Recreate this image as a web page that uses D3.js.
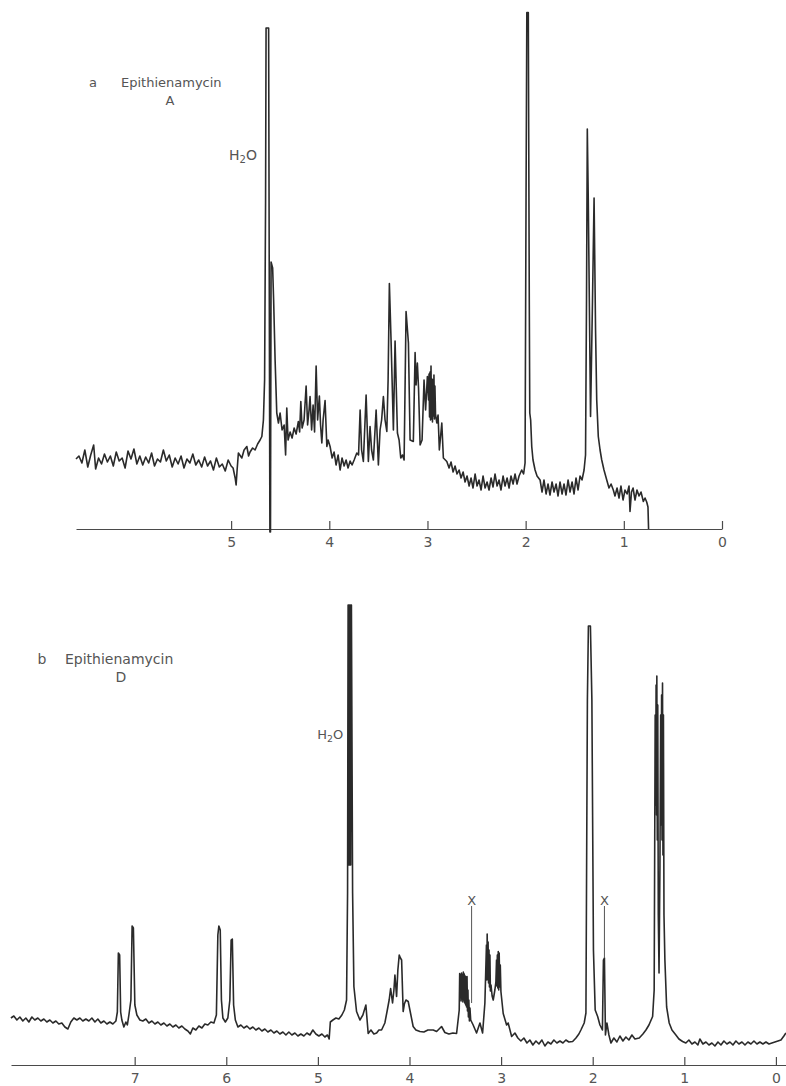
<!DOCTYPE html>
<html>
<head>
<meta charset="utf-8">
<script src="https://cdnjs.cloudflare.com/ajax/libs/d3/7.8.5/d3.min.js"></script>
<style>
body { margin: 0; background: #fff; }
svg { display: block; }
.trace { fill: none; stroke: #2a2a2a; stroke-width: 1.6; stroke-linejoin: round; }
.axis path, .axis line { stroke: #4a4a4a; stroke-width: 1.2; }
.axis text { font-family: "DejaVu Sans", sans-serif; font-size: 14px; fill: #555; }
.lbl { font-family: "DejaVu Sans", sans-serif; fill: #555; }
.mark { stroke: #555; stroke-width: 1; }
</style>
</head>
<body>
<script>
// spectrum a: [ppm, intensity]
var specA = [[6.58,14.0],[6.55,14.6],[6.52,13.2],[6.49,15.8],[6.46,12.4],[6.43,14.8],[6.40,16.8],[6.38,12.0],[6.35,14.2],[6.32,13.0],[6.29,15.0],[6.26,13.4],[6.23,14.6],[6.20,12.6],[6.17,15.4],[6.14,13.6],[6.11,14.2],[6.08,12.2],[6.05,15.6],[6.02,14.0],[5.99,16.0],[5.96,13.0],[5.93,14.6],[5.90,12.8],[5.87,14.4],[5.84,13.2],[5.81,15.2],[5.78,12.6],[5.75,14.0],[5.72,13.4],[5.69,15.8],[5.66,13.6],[5.63,14.8],[5.60,12.4],[5.57,14.2],[5.54,13.0],[5.51,14.6],[5.48,12.2],[5.45,14.0],[5.42,13.2],[5.39,15.0],[5.36,12.8],[5.33,13.8],[5.30,12.4],[5.27,14.4],[5.24,12.6],[5.21,13.6],[5.18,11.8],[5.15,14.2],[5.12,12.4],[5.09,13.0],[5.06,11.6],[5.03,13.8],[5.00,12.6],
  [4.980,12.2],[4.959,10.2],[4.949,8.8],[4.939,11.8],[4.926,15.2],[4.891,14.2],[4.868,15.8],[4.840,16.5],[4.822,14.6],[4.807,15.4],[4.781,16.2],[4.756,15.8],[4.730,17.0],[4.705,17.8],[4.687,18.5],[4.671,21.8],[4.659,29.8],[4.649,65.8],[4.644,100.2],[4.618,100.2],[4.605,-0.6],[4.599,-0.6],
  [4.593,53.4],[4.577,52.2],[4.567,45.8],[4.552,33.8],[4.535,23.2],[4.518,21.2],[4.501,23.2],[4.481,19.8],[4.460,20.8],[4.445,14.8],[4.433,24.2],[4.420,17.8],[4.399,19.4],[4.379,18.2],[4.358,20.2],[4.338,19.0],[4.315,21.5],[4.302,19.4],[4.290,25.5],[4.277,20.2],[4.257,21.8],[4.236,28.6],[4.221,20.8],[4.206,23.8],[4.196,26.5],[4.180,19.8],[4.165,24.8],[4.150,19.4],[4.134,32.6],[4.119,21.8],[4.101,26.6],[4.089,20.8],[4.076,17.2],[4.063,21.8],[4.043,25.7],[4.025,16.5],[4.012,17.8],
  [3.992,16.5],[3.971,14.2],[3.951,15.4],[3.931,12.8],[3.910,14.8],[3.890,11.8],[3.870,14.2],[3.849,12.6],[3.829,13.8],[3.809,12.2],[3.788,13.6],[3.768,12.8],[3.747,13.8],[3.720,15.2],[3.702,14.8],[3.686,23.8],[3.671,15.8],[3.653,13.5],[3.625,26.8],[3.602,13.5],[3.585,20.5],[3.569,15.8],[3.551,13.8],[3.523,23.8],[3.500,12.8],[3.483,19.8],[3.467,21.8],[3.449,26.5],[3.432,21.8],[3.414,19.5],[3.401,29.8],[3.388,49.1],[3.371,37.8],[3.347,19.8],[3.330,37.6],[3.306,19.2],[3.289,17.8],[3.272,14.2],[3.254,14.8],[3.238,13.8],[3.218,43.5],[3.194,37.2],[3.177,17.8],[3.144,17.5],[3.126,35.3],[3.116,28.8],[3.103,33.2],[3.091,28.2],[3.075,16.8],[3.055,17.8],[3.035,29.8],[3.019,23.8],[3.001,30.5],
  [2.989,25.8],[2.984,31.0],[2.979,22.4],[2.974,31.4],[2.969,21.8],[2.964,32.6],[2.959,22.0],[2.954,30.0],[2.949,21.4],[2.944,29.8],[2.939,22.6],[2.934,30.8],[2.929,22.0],[2.924,28.6],[2.918,23.0],[2.905,21.2],[2.892,22.8],[2.879,15.8],[2.854,21.2],[2.838,14.2],[2.803,13.5],[2.780,12.2],[2.760,13.4],[2.739,11.4],[2.719,12.6],[2.699,11.0],[2.678,11.8],[2.658,10.2],[2.637,11.4],[2.617,9.4],[2.597,10.6],[2.576,8.6],[2.556,10.2],[2.536,8.2],[2.515,11.0],[2.495,8.6],[2.475,9.8],[2.454,7.8],[2.434,10.6],[2.413,8.2],[2.393,9.4],[2.373,7.8],[2.352,10.2],[2.332,8.4],[2.312,11.0],[2.291,8.6],[2.271,9.8],[2.251,7.8],[2.230,10.6],[2.210,8.6],[2.189,10.2],[2.169,8.2],[2.149,10.6],[2.128,9.0],[2.108,11.0],[2.088,9.0],[2.067,10.6],[2.040,11.8],[2.021,11.0],[2.006,13.2],
  [1.996,65.8],[1.988,103.3],[1.973,103.3],[1.963,45.8],[1.958,23.2],[1.949,21.8],[1.938,16.5],[1.925,13.8],[1.904,11.8],[1.884,10.6],[1.853,9.8],[1.833,7.4],[1.813,9.8],[1.792,7.0],[1.772,9.0],[1.752,6.8],[1.731,9.4],[1.711,7.4],[1.690,9.0],[1.670,6.6],[1.650,9.4],[1.629,7.0],[1.609,9.0],[1.589,6.8],[1.568,9.8],[1.548,7.4],[1.527,9.4],[1.507,7.0],[1.487,10.2],[1.466,7.8],[1.446,10.6],[1.426,9.8],[1.405,11.8],[1.390,14.8],[1.380,45.8],[1.372,80.0],[1.362,65.8],[1.339,22.5],[1.319,45.8],[1.303,66.2],[1.288,39.8],[1.276,25.8],[1.260,18.5],[1.242,15.8],[1.225,13.8],[1.202,11.8],[1.174,9.8],[1.151,8.2],[1.130,9.0],[1.107,7.8],[1.090,6.6],[1.069,8.2],[1.049,6.2],[1.029,8.6],[1.008,5.8],
  [0.988,7.8],[0.967,7.0],[0.947,8.6],[0.937,3.5],[0.922,7.4],[0.906,8.2],[0.886,5.8],[0.866,7.8],[0.845,6.6],[0.825,7.4],[0.801,5.5],[0.784,6.2],[0.767,5.4],[0.754,4.4],[0.748,0]];

// spectrum b
var specB = [[8.351,9.4],[8.319,9.8],[8.286,9.0],[8.253,9.6],[8.221,8.8],[8.188,9.4],[8.155,8.6],[8.122,9.6],[8.090,9.0],[8.057,9.4],[8.024,8.8],[7.991,9.2],[7.959,8.6],[7.926,9.0],[7.893,8.4],[7.860,8.8],[7.828,8.2],[7.795,8.4],[7.762,7.6],[7.729,7.2],[7.697,8.6],[7.664,9.4],[7.631,9.0],[7.598,9.4],[7.566,8.8],[7.533,9.2],[7.500,8.8],[7.467,9.4],[7.434,8.6],[7.402,9.2],[7.369,8.4],[7.336,8.8],[7.303,8.2],[7.271,8.6],[7.238,8.2],[7.205,8.8],
  [7.189,10.6],[7.178,22.4],[7.164,22.0],[7.153,10.6],[7.140,9.0],[7.118,7.6],[7.096,8.6],[7.080,8.0],[7.063,10.0],[7.041,13.0],[7.028,27.8],[7.014,27.4],[6.998,12.0],[6.976,10.0],[6.943,9.0],[6.911,8.8],[6.878,9.2],[6.845,8.4],[6.812,8.8],[6.779,8.2],[6.747,8.6],[6.714,8.0],[6.681,8.4],[6.648,7.8],[6.616,8.2],[6.583,7.6],[6.550,8.0],[6.518,7.4],[6.485,7.8],[6.452,7.2],[6.419,6.8],[6.392,6.2],[6.365,7.4],[6.332,7.0],[6.299,7.8],[6.266,7.4],[6.234,8.2],[6.201,8.0],[6.168,8.6],[6.135,8.4],
  [6.108,10.0],[6.092,26.0],[6.081,27.8],[6.066,27.0],[6.053,13.0],[6.037,9.4],[6.010,8.6],[5.983,9.4],[5.961,13.0],[5.947,25.0],[5.934,25.2],[5.920,12.0],[5.901,9.0],[5.873,7.6],[5.841,8.0],[5.808,7.4],[5.775,7.8],[5.742,7.2],[5.710,7.6],[5.677,7.0],[5.644,7.4],[5.611,6.8],[5.579,7.2],[5.546,6.6],[5.513,7.0],[5.480,6.4],[5.448,6.8],[5.415,6.2],[5.382,6.6],[5.349,6.0],[5.317,6.6],[5.284,6.0],[5.251,6.4],[5.218,5.8],[5.186,6.2],[5.153,5.8],[5.120,6.4],[5.087,6.0],[5.055,7.0],[5.022,6.2],
  [4.989,5.8],[4.956,6.2],[4.924,5.6],[4.896,6.0],[4.877,5.2],[4.864,8.6],[4.836,9.0],[4.803,9.4],[4.771,9.2],[4.738,10.0],[4.711,11.0],[4.687,13.0],[4.676,34.4],[4.670,92.0],[4.666,40.0],[4.662,92.0],[4.658,40.0],[4.654,92.0],[4.650,40.0],[4.646,92.0],[4.642,40.0],[4.638,92.0],[4.634,92.0],[4.621,34.4],[4.607,15.7],[4.578,10.7],[4.541,9.0],[4.509,10.0],[4.476,12.0],[4.451,6.3],[4.421,7.0],[4.389,6.2],[4.359,6.4],[4.334,7.0],[4.305,7.0],[4.269,8.4],[4.242,11.0],[4.222,13.0],[4.206,15.3],[4.185,12.4],[4.170,15.0],[4.159,18.0],[4.141,13.7],[4.127,19.0],[4.112,22.0],[4.099,21.4],[4.086,21.0],[4.069,10.7],[4.056,12.2],[4.039,13.0],[4.014,12.7],
  [3.988,10.3],[3.960,7.7],[3.930,7.0],[3.886,6.7],[3.843,6.6],[3.799,7.0],[3.741,7.0],[3.704,6.7],[3.650,7.7],[3.614,6.5],[3.570,6.2],[3.526,6.4],[3.486,6.3],[3.457,11.0],[3.452,18.3],[3.447,13.5],[3.442,18.0],[3.437,12.8],[3.432,18.4],[3.427,13.2],[3.422,18.0],[3.417,12.6],[3.412,18.6],[3.407,13.0],[3.402,18.2],[3.397,12.4],[3.392,17.8],[3.387,12.0],[3.382,17.6],[3.377,11.6],[3.372,17.7],[3.367,10.8],[3.362,15.0],[3.357,9.6],[3.352,13.0],[3.346,8.8],[3.340,11.4],[3.332,9.0],[3.305,8.0],[3.268,6.4],[3.231,8.4],[3.202,6.4],
  [3.177,12.4],[3.160,24.0],[3.155,17.0],[3.152,26.2],[3.147,18.0],[3.142,24.6],[3.137,16.4],[3.132,23.0],[3.127,15.6],[3.122,22.0],[3.117,14.8],[3.110,16.0],[3.098,13.8],[3.086,13.0],[3.068,15.0],[3.057,16.6],[3.050,21.0],[3.046,15.8],[3.041,22.0],[3.036,15.4],[3.031,22.7],[3.026,15.0],[3.021,22.4],[3.015,15.6],[3.009,20.0],[3.002,14.7],
  [2.977,10.3],[2.940,8.0],[2.923,8.4],[2.885,5.7],[2.849,6.4],[2.817,5.4],[2.784,4.8],[2.751,5.4],[2.718,4.4],[2.686,5.0],[2.653,4.0],[2.620,4.8],[2.587,4.2],[2.555,5.0],[2.522,3.8],[2.489,4.6],[2.456,4.2],[2.424,5.0],[2.391,4.4],[2.358,4.8],[2.325,4.4],[2.293,5.0],[2.260,4.6],[2.219,4.7],[2.183,5.4],[2.151,6.2],[2.129,7.0],[2.093,8.4],[2.074,10.4],[2.058,73.0],[2.047,87.8],[2.025,87.8],[2.009,73.0],
  [1.992,23.0],[1.973,11.0],[1.946,9.7],[1.921,8.0],[1.894,7.0],[1.883,21.0],[1.872,21.4],[1.861,6.0],[1.845,8.4],[1.823,6.0],[1.801,4.4],[1.769,5.4],[1.736,4.6],[1.703,5.8],[1.670,4.8],[1.638,5.6],[1.605,5.0],[1.572,6.0],[1.539,5.2],[1.492,5.4],[1.452,6.2],[1.419,7.0],[1.386,8.0],[1.346,9.7],
  [1.329,15.0],[1.318,70.0],[1.313,52.0],[1.308,76.0],[1.303,50.0],[1.300,77.8],[1.295,45.0],[1.290,72.0],[1.284,30.0],[1.276,18.4],[1.266,40.0],[1.258,70.0],[1.253,48.0],[1.248,74.0],[1.243,45.0],[1.238,76.4],[1.233,42.0],[1.228,70.0],[1.222,30.0],[1.212,21.0],[1.193,11.6],[1.165,8.4],[1.135,7.0],[1.092,6.0],[1.059,5.2],[1.019,4.7],
  [0.983,4.4],[0.950,5.0],[0.917,4.2],[0.884,4.6],[0.852,4.0],[0.830,5.2],[0.797,4.2],[0.764,4.6],[0.731,4.0],[0.699,4.4],[0.666,3.8],[0.633,4.6],[0.600,4.0],[0.568,4.8],[0.535,4.2],[0.502,4.6],[0.469,4.0],[0.437,4.8],[0.404,4.2],[0.371,4.6],[0.338,4.0],[0.306,4.6],[0.273,4.2],[0.240,4.8],[0.207,4.2],[0.175,4.6],[0.142,4.2],[0.109,4.6],[0.076,4.2],[0.044,4.4],[0.011,4.6],[-0.022,4.8],[-0.055,5.0],[-0.087,5.8],[-0.109,6.4]];

var ticksA = [5, 4, 3, 2, 1, 0];
var ticksB = [7, 6, 5, 4, 3, 2, 1, 0];

// H2O peaks and the impurity marks (ppm, top, bottom)
var waterA = [4.644, 73.8];
var waterB = [4.670, 65.2];
var marksB = [[3.322, 31.8, 12.4], [1.872, 31.8, 21.4]];

var svg = d3.select("body").append("svg")
  .attr("width", 786)
  .attr("height", 1086);

function drawPanel(o) {
  var x = d3.scaleLinear().domain(o.xDomain).range(o.xRange),
      y = d3.scaleLinear().domain(o.yDomain).range(o.yRange);

  var g = svg.append("g");

  g.append("g")
    .attr("class", "axis")
    .attr("transform", "translate(0," + o.yRange[0] + ")")
    .call(d3.axisBottom(x)
      .tickValues(o.ticks)
      .tickSize(-8)
      .tickSizeOuter(0)
      .tickPadding(8)
      .tickFormat(d3.format("d")));

  g.append("path")
    .datum(o.data)
    .attr("class", "trace")
    .attr("d", d3.line()
      .x(function(d) { return x(d[0]); })
      .y(function(d) { return y(d[1]); }));

  // H2O label, left of the water peak
  var h = g.append("text")
    .attr("class", "lbl")
    .attr("x", x(o.water[0]) - o.waterGap)
    .attr("y", y(o.water[1]))
    .attr("text-anchor", "end")
    .style("font-size", o.waterSize + "px");
  h.append("tspan").text("H");
  h.append("tspan").attr("dy", 3).style("font-size", (o.waterSize * 0.72) + "px").text("2");
  h.append("tspan").attr("dy", -3).text("O");

  (o.marks || []).forEach(function(m) {
    g.append("line")
      .attr("class", "mark")
      .attr("x1", x(m[0])).attr("x2", x(m[0]))
      .attr("y1", y(m[1])).attr("y2", y(m[2]));
    g.append("text")
      .attr("class", "lbl")
      .attr("x", x(m[0]))
      .attr("y", y(m[1]) - 1)
      .attr("text-anchor", "middle")
      .style("font-size", "13px")
      .text("X");
  });

  g.append("text").attr("class", "lbl")
    .attr("x", o.title.x0).attr("y", o.title.y)
    .attr("text-anchor", "middle")
    .style("font-size", o.title.size + "px")
    .text(o.title.letter);
  g.append("text").attr("class", "lbl")
    .attr("x", o.title.x1).attr("y", o.title.y)
    .style("font-size", o.title.size + "px")
    .text("Epithienamycin");
  g.append("text").attr("class", "lbl")
    .attr("x", o.title.x2).attr("y", o.title.y + 18)
    .attr("text-anchor", "middle")
    .style("font-size", o.title.size + "px")
    .text(o.title.name);
}

drawPanel({
  data: specA,
  ticks: ticksA,
  xDomain: [6.58, 0], xRange: [76, 722],
  yDomain: [0, 104], yRange: [529, 9],
  water: waterA, waterGap: 9, waterSize: 14,
  title: {letter: "a", name: "A", x0: 93, x1: 121, x2: 170, y: 87, size: 13}
});

drawPanel({
  data: specB,
  ticks: ticksB,
  xDomain: [8.35, -0.11], xRange: [11, 786],
  yDomain: [0, 96], yRange: [1065, 585],
  water: waterB, waterGap: 5, waterSize: 13,
  marks: marksB,
  title: {letter: "b", name: "D", x0: 42, x1: 65, x2: 121, y: 664, size: 14}
});
</script>
</body>
</html>
